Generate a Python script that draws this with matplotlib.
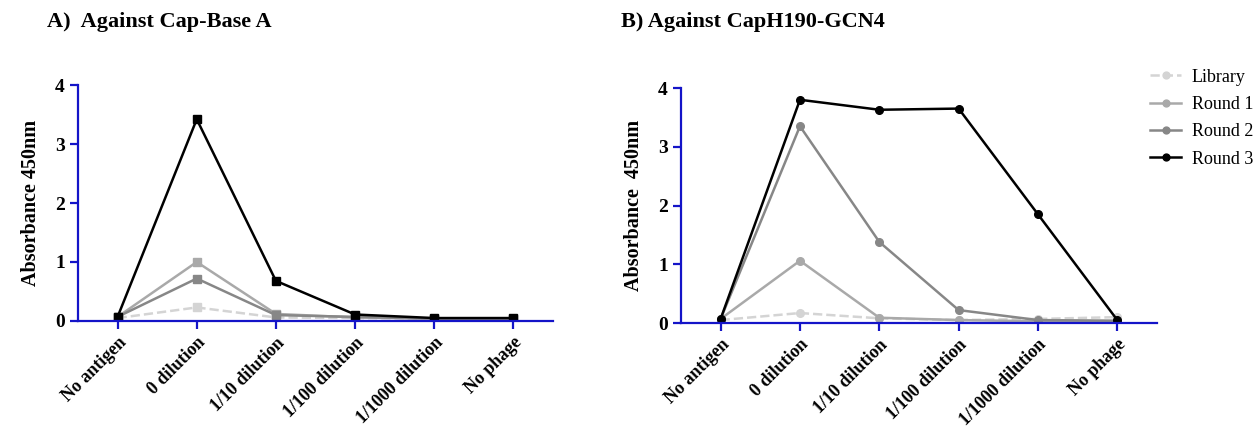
import matplotlib
matplotlib.use("Agg")
import matplotlib.pyplot as plt

categories = ["No antigen", "0 dilution", "1/10 dilution", "1/100 dilution",
              "1/1000 dilution", "No phage"]
series_names = ["Library", "Round 1", "Round 2", "Round 3"]

# Panel A: against Cap-Base A
a_library = [0.05, 0.23, 0.06, 0.05, 0.04, 0.04]
a_round1 = [0.07, 1.00, 0.12, 0.06, 0.04, 0.04]
a_round2 = [0.07, 0.72, 0.10, 0.07, 0.04, 0.04]
a_round3 = [0.07, 3.42, 0.68, 0.11, 0.05, 0.05]

# Panel B: against CapH190-GCN4
b_library = [0.05, 0.17, 0.08, 0.05, 0.07, 0.10]
b_round1 = [0.07, 1.06, 0.09, 0.05, 0.03, 0.03]
b_round2 = [0.07, 3.35, 1.38, 0.22, 0.05, 0.04]
b_round3 = [0.07, 3.80, 3.63, 3.65, 1.85, 0.05]

yticks = [0, 1, 2, 3, 4]

plt.rcParams["font.family"] = ["Liberation Serif", "DejaVu Serif"]
plt.rcParams["font.weight"] = "bold"

colors = ["#d4d4d4", "#a9a9a9", "#878787", "#000000"]
styles = ["--", "-", "-", "-"]
spine_color = "#1414c8"

fig = plt.figure(figsize=(12.58, 4.30), dpi=100)
ax_a = fig.add_axes([0.062, 0.2535, 0.3776, 0.5488])
ax_b = fig.add_axes([0.5413, 0.2488, 0.3784, 0.5465])

x = list(range(len(categories)))


def draw(ax, data, marker, ylabel):
    handles = []
    for vals, c, ls, name in zip(data, colors, styles, series_names):
        h, = ax.plot(x, vals, color=c, linestyle=ls, linewidth=1.8,
                     marker=marker, markersize=5.5, markerfacecolor=c,
                     markeredgecolor=c, label=name)
        handles.append(h)
    ax.set_xlim(-0.5, 5.5)
    ax.set_ylim(0, 4)
    ax.set_yticks(yticks)
    ax.set_xticks(x)
    ax.set_xticklabels(categories, rotation=45, ha="right",
                       rotation_mode="anchor", fontsize=13,
                       fontweight="bold")
    for lab in ax.get_yticklabels():
        lab.set_fontsize(14)
        lab.set_fontweight("bold")
    ax.spines["top"].set_visible(False)
    ax.spines["right"].set_visible(False)
    for s in ("left", "bottom"):
        ax.spines[s].set_color(spine_color)
        ax.spines[s].set_linewidth(1.6)
    ax.tick_params(axis="both", colors=spine_color, labelcolor="black",
                   width=1.6, length=6, direction="out")
    ax.set_ylabel(ylabel, fontsize=14.5, fontweight="bold", labelpad=10)
    return handles


draw(ax_a, [a_library, a_round1, a_round2, a_round3], "s",
     "Absorbance 450nm")
handles = draw(ax_b, [b_library, b_round1, b_round2, b_round3], "o",
               "Absorbance  450nm")

fig.text(0.037, 0.948, "A)  Against Cap-Base A", fontsize=16,
         fontweight="bold", va="center")
fig.text(0.494, 0.948, "B) Against CapH190-GCN4", fontsize=16,
         fontweight="bold", va="center")

fig.legend(handles=handles, labels=series_names, loc="upper left",
           bbox_to_anchor=(0.9086, 0.857), frameon=False,
           borderaxespad=0,
           prop={"family": "Liberation Serif", "weight": "normal", "size": 13},
           handlelength=1.7, labelspacing=0.57, handletextpad=0.6,
           markerscale=0.9)

fig.savefig("out.png", dpi=100)
